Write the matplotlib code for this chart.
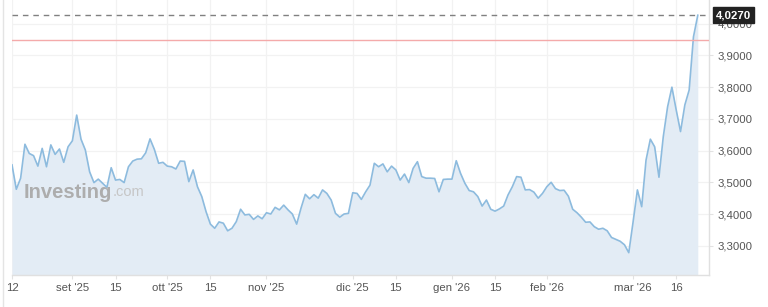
import matplotlib
matplotlib.use('Agg')
import matplotlib.pyplot as plt
import numpy as np
import pandas as pd

# ---------------- data ----------------
start_date = '2025-08-12'
values = [
    3.555, 3.478, 3.513, 3.620, 3.591, 3.584, 3.551, 3.607, 3.549, 3.618,
    3.588, 3.605, 3.563, 3.612, 3.631, 3.712, 3.636, 3.602, 3.533, 3.499,
    3.510, 3.497, 3.484, 3.546, 3.507, 3.509, 3.499, 3.549, 3.567, 3.573,
    3.574, 3.593, 3.637, 3.604, 3.560, 3.563, 3.551, 3.549, 3.542, 3.567,
    3.566, 3.502, 3.539, 3.486, 3.455, 3.407, 3.368, 3.355, 3.375, 3.371,
    3.347, 3.355, 3.376, 3.415, 3.397, 3.399, 3.383, 3.394, 3.385, 3.404,
    3.400, 3.421, 3.413, 3.428, 3.413, 3.400, 3.368, 3.418, 3.462, 3.448,
    3.461, 3.450, 3.476, 3.465, 3.444, 3.402, 3.390, 3.400, 3.402, 3.467,
    3.465, 3.446, 3.470, 3.491, 3.560, 3.549, 3.558, 3.533, 3.551, 3.539,
    3.507, 3.526, 3.499, 3.544, 3.565, 3.518, 3.513, 3.513, 3.512, 3.470,
    3.509, 3.510, 3.510, 3.568, 3.528, 3.497, 3.474, 3.470, 3.455, 3.425,
    3.444, 3.415, 3.409, 3.416, 3.425, 3.460, 3.486, 3.518, 3.516, 3.476,
    3.477, 3.469, 3.450, 3.465, 3.486, 3.500, 3.480, 3.474, 3.475, 3.456,
    3.415, 3.404, 3.390, 3.374, 3.375, 3.360, 3.352, 3.355, 3.347, 3.326,
    3.320, 3.314, 3.303, 3.278, 3.375, 3.476, 3.423, 3.570, 3.636, 3.612,
    3.516, 3.644, 3.738, 3.800, 3.728, 3.660, 3.744, 3.791, 3.959, 4.027,
]
tick_dates = ['2025-08-12', '2025-09-01', '2025-09-15', '2025-10-01', '2025-10-15',
              '2025-11-03', '2025-12-01', '2025-12-15', '2026-01-01', '2026-01-15',
              '2026-02-02', '2026-03-02', '2026-03-16']
tick_labels = ['12', "set '25", '15', "ott '25", '15', "nov '25", "dic '25", '15',
               "gen '26", '15', "feb '26", "mar '26", '16']
ytick_values = [3.3, 3.4, 3.5, 3.6, 3.7, 3.8, 3.9, 4.0]
last_value = 4.027
ref_level = 3.949

# ---------------- figure ----------------
plt.rcParams['font.family'] = ['Liberation Sans', 'DejaVu Sans']
W, H = 768, 307
fig = plt.figure(figsize=(W / 100, H / 100), dpi=100)
fig.patch.set_facecolor('white')

L, R, T, B = 12, 709, 0, 275
ax = fig.add_axes([L / W, 1 - B / H, (R - L) / W, (B - T) / H])

dates = pd.bdate_range(start_date, periods=len(values))
x = np.arange(len(values))
tick_pos = [dates.get_loc(pd.Timestamp(d)) for d in tick_dates]

ymin, ymax = 3.2076, 4.075
line_col = '#8dbbde'
fill_col = '#e3ecf5'

ax.fill_between(x, values, ymin, color=fill_col, lw=0, zorder=2)
ax.plot(x, values, color=line_col, lw=1.2, zorder=3)

ax.axhline(last_value, color='#808080', lw=1.0, ls=(0, (4, 3.5)), zorder=4)
ax.axhline(ref_level, color='#f4aaaa', lw=1.0, zorder=4)

ax.set_xlim(0, 161.6)
ax.set_ylim(ymin, ymax)

ax.set_xticks(tick_pos)
ax.set_xticklabels(tick_labels)
ax.set_yticks(ytick_values)
ax.set_yticklabels([f"{v:.4f}".replace('.', ',') for v in ytick_values])
ax.yaxis.tick_right()
ax.tick_params(axis='y', length=3, color='#e2e2e2', pad=3, labelsize=8.2, labelcolor='#555555')
ax.tick_params(axis='x', length=3, color='#e2e2e2', pad=3, labelsize=8.2, labelcolor='#555555')

ax.grid(True, color='#f2f2f2', lw=0.9, zorder=0)
for side in ['top', 'left']:
    ax.spines[side].set_visible(False)
for side in ['bottom', 'right']:
    ax.spines[side].set_color('#e0e0e0')
    ax.spines[side].set_linewidth(1.0)

# last value badge
ax.annotate(f"{last_value:.4f}".replace('.', ','), xy=(1.0, last_value),
            xycoords=('axes fraction', 'data'), xytext=(5, 0), textcoords='offset points',
            ha='left', va='center', color='white', fontsize=8.2, fontweight='bold', zorder=10,
            bbox=dict(boxstyle='square,pad=0.25', fc='#222222', ec='#222222'),
            annotation_clip=False)

# watermark
wm = fig.text(24 / W, 1 - 192 / H, 'Investing', fontsize=14.5, fontweight='bold',
              color='#adadad', ha='left', va='center', family=['Liberation Sans'])
ax.annotate('.com', xy=(1, 0.12), xycoords=wm, ha='left', va='bottom',
            fontsize=10.5, color='#c6c6c6', annotation_clip=False)

# widget frame line
fig.add_artist(plt.Line2D([2.5 / W, 2.5 / W], [0, 1], transform=fig.transFigure,
                          color='#e4e4e4', lw=1))

fig.savefig('out.png', dpi=100, facecolor='white')
